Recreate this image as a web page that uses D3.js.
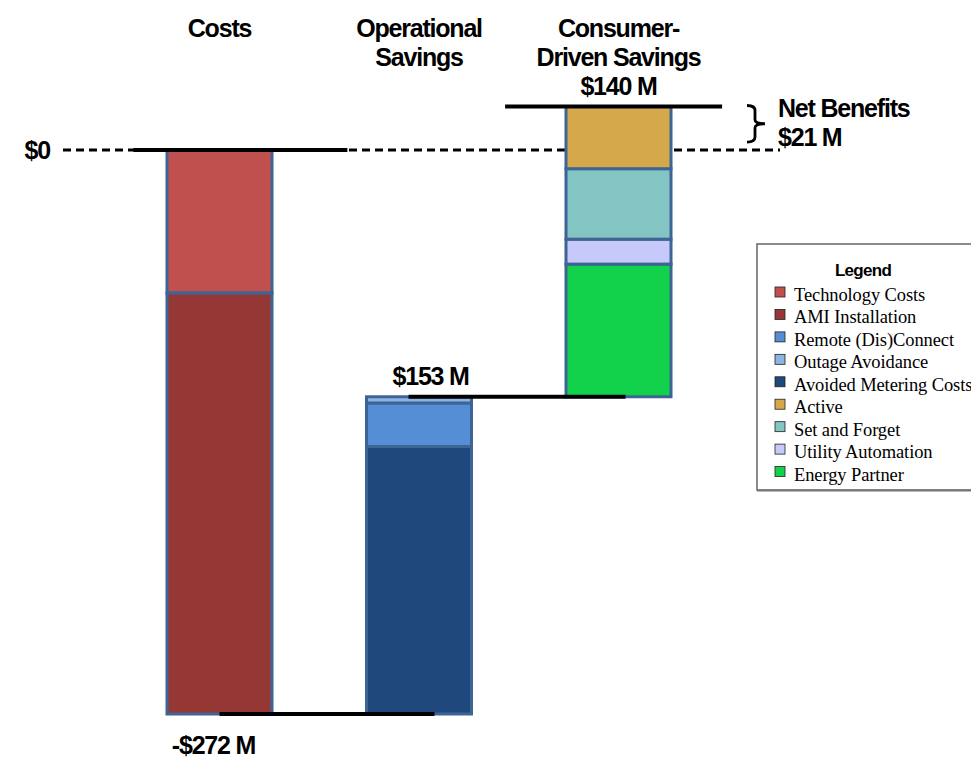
<!DOCTYPE html>
<html><head><meta charset="utf-8">
<script src="https://cdn.jsdelivr.net/npm/d3@7"></script>
<style>body{margin:0;background:#fff;} svg{display:block;}</style>
</head><body>
<svg id="chart" width="971" height="759"></svg>
<script>
// ---------------- DATA ----------------
const categories = ["Costs", "Operational Savings", "Consumer-Driven Savings"];
const categoryTitleLines = [["Costs"], ["Operational", "Savings"], ["Consumer-", "Driven Savings"]];

// segments per category, in stacking order (from the running level outward)
const costNames = ["Technology Costs", "AMI Installation"];
const costValues = [-69, -203];
const operationalNames = ["Avoided Metering Costs", "Remote (Dis)Connect", "Outage Avoidance"];
const operationalValues = [129, 21, 3];
const consumerNames = ["Energy Partner", "Utility Automation", "Set and Forget", "Active"];
const consumerValues = [64, 12, 34, 30];

const legendNames = ["Technology Costs", "AMI Installation", "Remote (Dis)Connect", "Outage Avoidance",
  "Avoided Metering Costs", "Active", "Set and Forget", "Utility Automation", "Energy Partner"];
const legendColors = ["#C0504D", "#953735", "#558ED5", "#8EB4E3", "#1F497D", "#D6A84C", "#82C5C2", "#C7C9FA", "#12D14B"];

// ---------------- LAYOUT ----------------
const svg = d3.select("#chart");
const font = "'Liberation Sans', Arial, sans-serif";
const colorOf = d3.scaleOrdinal().domain(legendNames).range(legendColors);

const groups = [
  { cat: categories[0], names: costNames, values: costValues },
  { cat: categories[1], names: operationalNames, values: operationalValues },
  { cat: categories[2], names: consumerNames, values: consumerValues }
];

// waterfall running totals
let level = 0;
const segs = [];
const levels = [0];
groups.forEach(g => {
  g.start = level;
  g.values.forEach((v, i) => {
    segs.push({ cat: g.cat, name: g.names[i], y0: level, y1: level + v });
    level += v;
  });
  g.end = level;
  g.total = d3.sum(g.values);
  levels.push(level);
});
const finalLevel = level;
const minLevel = d3.min(levels);

const x = d3.scaleBand().domain(categories).range([167, 671]).paddingInner(0.4737).paddingOuter(0);
const y = d3.scaleLinear().domain([minLevel, finalLevel]).range([714, 106.5]);
const bw = x.bandwidth();

const fmt = v => (v < 0 ? "-$" : "$") + Math.abs(v) + " M";

// dashed zero line
svg.append("line")
  .attr("x1", 63).attr("x2", 780)
  .attr("y1", y(0)).attr("y2", y(0))
  .attr("stroke", "#000").attr("stroke-width", 3)
  .attr("stroke-dasharray", "8,5");

// bars
svg.append("g").selectAll("rect").data(segs).join("rect")
  .attr("x", d => x(d.cat))
  .attr("width", bw)
  .attr("y", d => y(Math.max(d.y0, d.y1)))
  .attr("height", d => Math.abs(y(d.y0) - y(d.y1)))
  .attr("fill", d => colorOf(d.name))
  .attr("stroke", "#3E6496")
  .attr("stroke-width", 3);

// connector level lines
const conn = [
  { v: levels[0], x1: x(categories[0]) - 0.32 * bw, len: 214 },
  { v: levels[1], x1: x(categories[0]) + bw / 2, len: 215 },
  { v: levels[2], x1: x(categories[1]) + 0.40 * bw, len: 217 },
  { v: levels[3], x1: x(categories[2]) - 0.58 * bw, len: 217 }
];
svg.append("g").selectAll("line").data(conn).join("line")
  .attr("x1", d => d.x1).attr("x2", d => d.x1 + d.len)
  .attr("y1", d => y(d.v)).attr("y2", d => y(d.v))
  .attr("stroke", "#000").attr("stroke-width", 4);

// category titles
const titles = svg.append("g").attr("font-family", font).attr("font-weight", "bold")
  .attr("font-size", 25).attr("text-anchor", "middle").attr("letter-spacing", -1.2);
groups.forEach((g, i) => {
  categoryTitleLines[i].forEach((t, j) => {
    titles.append("text").attr("x", x(g.cat) + bw / 2).attr("y", 37 + j * 29).text(t);
  });
});
// consumer total label under its title
titles.append("text").attr("x", x(categories[2]) + bw / 2).attr("y", 95).text(fmt(groups[2].total));

// value labels
const labels = svg.append("g").attr("font-family", font).attr("font-weight", "bold")
  .attr("font-size", 25).attr("letter-spacing", -1.2);
labels.append("text").attr("x", 50).attr("y", y(0) + 9).attr("text-anchor", "end").text("$0");
labels.append("text").attr("x", x(categories[0]) + bw / 2 - 6).attr("y", 754).attr("text-anchor", "middle").text(fmt(groups[0].total));
labels.append("text").attr("x", x(categories[1]) + 26).attr("y", y(levels[2]) - 12).text(fmt(groups[1].total));
labels.append("text").attr("x", 778).attr("y", y(finalLevel) + 10).text("Net Benefits");
labels.append("text").attr("x", 778).attr("y", y(finalLevel) + 39).text(fmt(finalLevel));

// brace
const bt = y(finalLevel) - 1, bb = y(0) - 8, bm = (bt + bb) / 2;
const bp = d3.path();
bp.moveTo(747, bt);
bp.quadraticCurveTo(755, bt, 755, bt + 5);
bp.lineTo(755, bm - 4);
bp.quadraticCurveTo(755, bm, 765, bm);
bp.quadraticCurveTo(755, bm, 755, bm + 4);
bp.lineTo(755, bb - 5);
bp.quadraticCurveTo(755, bb, 747, bb);
svg.append("path").attr("d", bp.toString()).attr("fill", "none").attr("stroke", "#000").attr("stroke-width", 2.8);

// legend
const lg = svg.append("g");
lg.append("rect").attr("x", 757).attr("y", 244).attr("width", 240).attr("height", 246)
  .attr("fill", "#fff").attr("stroke", "#666").attr("stroke-width", 1.5);
lg.append("line").attr("x1", 757).attr("x2", 971).attr("y1", 490.5).attr("y2", 490.5)
  .attr("stroke", "#777").attr("stroke-width", 2);
lg.append("text").attr("x", 863).attr("y", 276).attr("text-anchor", "middle")
  .attr("font-family", font).attr("font-weight", "bold").attr("font-size", 17).attr("letter-spacing", -0.7)
  .text("Legend");
const ly = d3.scaleBand().domain(legendNames).range([284, 486]);
const items = lg.selectAll("g.item").data(legendNames).join("g").attr("class", "item")
  .attr("transform", d => `translate(0,${ly(d)})`);
items.append("rect").attr("x", 775).attr("y", 3).attr("width", 10).attr("height", 10)
  .attr("fill", d => colorOf(d)).attr("stroke", "#222").attr("stroke-width", 0.8);
items.append("text").attr("x", 794).attr("y", 17)
  .attr("font-family", "'Liberation Serif', 'Times New Roman', serif").attr("font-size", 18.5)
  .attr("letter-spacing", -0.1)
  .text(d => d);
</script>
</body></html>
